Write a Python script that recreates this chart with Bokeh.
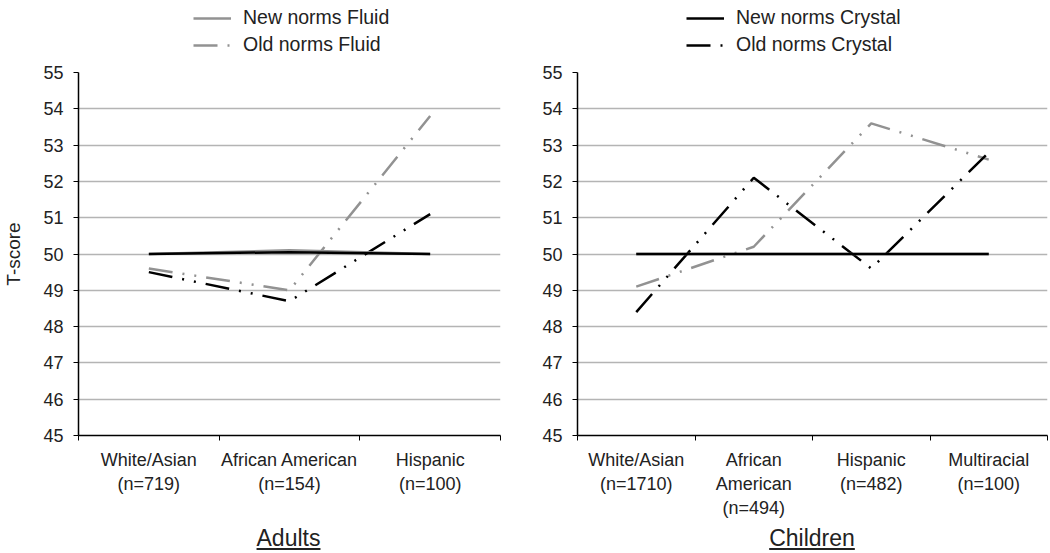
from bokeh.plotting import figure
from bokeh.models import Range1d, FixedTicker, Legend, LegendItem, Div
from bokeh.layouts import row, column
from bokeh.embed import file_html
from bokeh.resources import INLINE

# ---- data ----
adult_groups = ["White/Asian\n(n=719)", "African American\n(n=154)", "Hispanic\n(n=100)"]
adult_new_fluid = [50.0, 50.1, 50.0]
adult_new_crystal = [50.0, 50.05, 50.0]
adult_old_fluid = [49.6, 49.0, 53.8]
adult_old_crystal = [49.5, 48.7, 51.1]

child_groups = ["White/Asian\n(n=1710)", "African\nAmerican\n(n=494)", "Hispanic\n(n=482)", "Multiracial\n(n=100)"]
child_new_fluid = [50.0, 50.0, 50.0, 50.0]
child_new_crystal = [50.0, 50.0, 50.0, 50.0]
child_old_fluid = [49.1, 50.2, 53.6, 52.6]
child_old_crystal = [48.4, 52.1, 49.6, 52.8]

y_ticks = list(range(45, 56))
panel_titles = ["Adults", "Children"]

FONT = "Liberation Sans"
GRAY = "#929292"
BLACK = "#000000"
DASH_OLD = "24 10 2 10 2 10"
LEG_H = 62
FIG_H = 463
TOP = 10
BOTTOM = 90


def legend_fig(width, bl, br, which, leg_x):
    lf = figure(width=width, height=LEG_H, x_range=Range1d(0, 1), y_range=Range1d(0, 1),
                x_axis_type=None, y_axis_type=None, output_backend="svg", toolbar_location=None,
                min_border_left=bl, min_border_right=br, min_border_top=0, min_border_bottom=0)
    lf.outline_line_color = None
    lf.grid.visible = False
    if which == "Fluid":
        color, labels = GRAY, ["New norms Fluid", "Old norms Fluid"]
    else:
        color, labels = BLACK, ["New norms Crystal", "Old norms Crystal"]
    # sample renderers kept outside the visible range; they only feed the legend glyphs
    r_new = lf.line(x=[5, 6], y=[5, 6], line_color=color, line_width=2.5)
    r_old = lf.line(x=[5, 6], y=[5, 6], line_color=color, line_width=2.5, line_dash=DASH_OLD)
    leg = Legend(items=[LegendItem(label=labels[0], renderers=[r_new]),
                        LegendItem(label=labels[1], renderers=[r_old])],
                 location=(leg_x, 6), orientation="vertical",
                 border_line_color=None, background_fill_alpha=0,
                 label_text_font=FONT, label_text_font_size="19.5px", label_text_color="#222222",
                 glyph_width=38, glyph_height=20, label_height=20, spacing=4,
                 label_standoff=12, padding=0, margin=0)
    lf.add_layout(leg, "center")
    return lf


def make_panel(groups, nf, nc, of, oc, width, bl, br, ylabel):
    n = len(groups)
    centers = [i + 0.5 for i in range(n)]
    p = figure(width=width, height=FIG_H, x_range=Range1d(0, n), y_range=Range1d(45, 55),
               output_backend="svg", toolbar_location=None,
               min_border_left=bl, min_border_right=br, min_border_top=TOP, min_border_bottom=BOTTOM)
    p.outline_line_color = None
    p.background_fill_color = "white"
    p.border_fill_color = "white"

    p.line(centers, of, line_color=GRAY, line_width=2.5, line_dash=DASH_OLD)
    p.line(centers, oc, line_color=BLACK, line_width=2.5, line_dash=DASH_OLD)
    p.line(centers, nf, line_color=GRAY, line_width=2.5)
    p.line(centers, nc, line_color=BLACK, line_width=2.5)

    xa = p.xaxis[0]
    xa.ticker = FixedTicker(ticks=centers, minor_ticks=list(range(n + 1)))
    xa.major_label_overrides = {c: g for c, g in zip(centers, groups)}
    xa.major_tick_line_color = None
    xa.minor_tick_line_color = BLACK
    xa.minor_tick_out = 5
    xa.minor_tick_in = 0
    xa.axis_line_color = BLACK
    xa.axis_line_width = 1.5
    xa.major_label_text_font = FONT
    xa.major_label_text_font_size = "18px"
    xa.major_label_text_color = "#222222"
    xa.major_label_standoff = 8
    xa.major_label_text_line_height = 1.2

    ya = p.yaxis[0]
    ya.ticker = FixedTicker(ticks=y_ticks)
    ya.major_tick_out = 5
    ya.major_tick_in = 0
    ya.minor_tick_line_color = None
    ya.axis_line_color = BLACK
    ya.axis_line_width = 1.5
    ya.major_label_text_font = FONT
    ya.major_label_text_font_size = "18px"
    ya.major_label_text_color = "#222222"
    ya.major_label_standoff = 10
    if ylabel:
        ya.axis_label = ylabel
        ya.axis_label_text_font = FONT
        ya.axis_label_text_font_style = "normal"
        ya.axis_label_text_font_size = "19px"
        ya.axis_label_text_color = "#222222"
        ya.axis_label_standoff = 16

    p.xgrid.grid_line_color = None
    p.ygrid.ticker = FixedTicker(ticks=y_ticks)
    p.ygrid.grid_line_color = "#b4b4b4"
    p.ygrid.grid_line_width = 1.5
    return p


p1 = make_panel(adult_groups, adult_new_fluid, adult_new_crystal, adult_old_fluid, adult_old_crystal,
                width=538, bl=77, br=38, ylabel="T-score")
p2 = make_panel(child_groups, child_new_fluid, child_new_crystal, child_old_fluid, child_old_crystal,
                width=510, bl=39, br=1, ylabel=None)
l1 = legend_fig(538, 77, 38, "Fluid", 115)
l2 = legend_fig(510, 39, 1, "Crystal", 109)


def title_div(text, w, ml):
    return Div(text=f"<div style='width:{w}px;text-align:center;font-size:23px;"
                    f"line-height:26px;font-family:\"{FONT}\";color:#222'><u>{text}</u></div>",
               width=w, height=26, margin=(0, 0, 0, ml))


d1 = title_div(panel_titles[0], 423, 77)
d2 = title_div(panel_titles[1], 470, 39)

layout = row(column(l1, p1, d1, spacing=0), column(l2, p2, d2, spacing=0), spacing=0)

open("out.html", "w").write(file_html(layout, INLINE))
